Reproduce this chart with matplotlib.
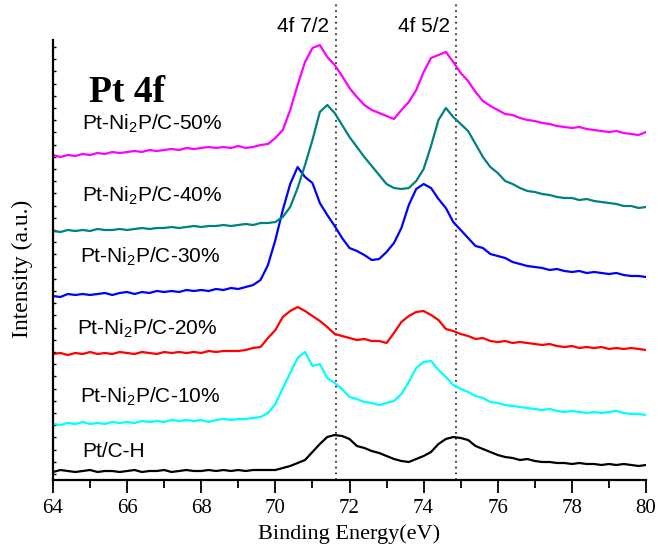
import numpy as np
import matplotlib
matplotlib.use('Agg')
import matplotlib.pyplot as plt
from matplotlib.ticker import MultipleLocator, FixedLocator, NullFormatter

plt.rcParams['font.family'] = 'Liberation Serif'
plt.rcParams['mathtext.default'] = 'regular'

# binding energy grid (eV), 0.2 eV step
energy = np.round(np.arange(64.0, 80.0001, 0.2), 1)

# intensities (arbitrary units, offsets included)
pt_c_h = [8, 10, 9, 8, 9, 10, 8, 9, 9, 8,
          9, 10, 8, 9, 9, 10, 8, 9, 10, 9,
          9, 10, 9, 10, 9, 10, 9, 10, 10, 10,
          10, 12, 14, 17, 20, 28, 36, 43, 45, 44,
          41, 34, 32, 29, 27, 24, 21, 19, 18, 21,
          24, 28, 36, 41, 43, 42, 40, 34, 31, 28,
          25, 23, 22, 20, 21, 19, 18, 18, 17, 17,
          16, 17, 16, 16, 15, 16, 15, 16, 15, 14,
          15]
pct10 = [56, 55, 57, 56, 58, 56, 57, 56, 58, 57,
         58, 57, 59, 58, 59, 58, 60, 59, 60, 59,
         60, 58, 60, 61, 60, 61, 61, 62, 63, 67,
         76, 92, 107, 122, 128, 114, 116, 102, 97, 91,
         83, 81, 78, 77, 75, 77, 79, 86, 98, 112,
         118, 119, 110, 103, 95, 91, 88, 84, 82, 78,
         77, 75, 74, 73, 72, 71, 70, 71, 69, 68,
         69, 68, 67, 68, 67, 68, 69, 67, 66, 66,
         65]
pct20 = [126, 127, 125, 127, 126, 128, 126, 127, 126, 128,
         127, 126, 128, 127, 126, 128, 127, 128, 127, 128,
         127, 129, 128, 129, 129, 129, 130, 132, 133, 142,
         150, 163, 169, 173, 169, 164, 159, 153, 146, 144,
         142, 140, 141, 139, 139, 137, 147, 158, 164, 168,
         169, 165, 160, 151, 149, 146, 144, 141, 142, 139,
         138, 139, 137, 138, 137, 136, 135, 136, 134, 133,
         134, 132, 133, 132, 133, 131, 132, 131, 132, 131,
         130]
pct30 = [184, 183, 186, 185, 186, 185, 186, 187, 185, 187,
         188, 186, 188, 187, 189, 188, 189, 188, 190, 189,
         190, 189, 191, 190, 192, 191, 193, 195, 200, 215,
         240, 270, 296, 313, 303, 297, 277, 265, 254, 242,
         232, 229, 225, 220, 221, 228, 237, 252, 275, 291,
         296, 292, 281, 272, 258, 250, 242, 234, 232, 226,
         224, 222, 218, 216, 214, 213, 212, 210, 211, 209,
         208, 209, 207, 208, 207, 206, 207, 205, 204, 204,
         203]
pct40 = [249, 248, 250, 249, 250, 249, 251, 250, 250, 251,
         250, 251, 252, 251, 252, 252, 253, 252, 253, 254,
         253, 254, 254, 255, 254, 255, 256, 255, 257, 257,
         258, 263, 273, 292, 315, 340, 368, 375, 367, 355,
         343, 333, 323, 314, 305, 296, 292, 291, 292, 299,
         311, 334, 360, 372, 363, 356, 349, 336, 323, 313,
         307, 299, 296, 292, 289, 288, 286, 285, 283, 282,
         282, 280, 281, 279, 278, 277, 276, 274, 274, 272,
         273]
pct50 = [325, 323, 325, 324, 326, 325, 327, 326, 328, 327,
         328, 329, 328, 330, 329, 330, 331, 330, 332, 331,
         332, 333, 332, 333, 332, 334, 332, 333, 335, 336,
         342, 350, 370, 395, 418, 432, 435, 423, 415, 404,
         392, 383, 375, 370, 367, 364, 361, 370, 378, 390,
         408, 422, 425, 428, 418, 407, 399, 388, 379, 374,
         370, 366, 365, 362, 360, 359, 357, 356, 354, 353,
         352, 353, 351, 350, 349, 348, 349, 347, 346, 345,
         348]

series = [pt_c_h, pct10, pct20, pct30, pct40, pct50]
colors = ['black', '#00FFFF', '#FF0000', '#0000FF', '#008080', '#FF00FF']
labels = ['Pt/C-H', 'Pt-Ni$_2$P/C-10%', 'Pt-Ni$_2$P/C-20%',
          'Pt-Ni$_2$P/C-30%', 'Pt-Ni$_2$P/C-40%', 'Pt-Ni$_2$P/C-50%']
label_x = [64.78, 64.73, 64.65, 64.73, 64.78, 64.78]
label_y = [23, 77, 145, 217, 278, 350]

peaks = [71.64, 74.87]
peak_names = ['4f 7/2', '4f 5/2']
peak_text_x = [70.04, 73.31]

fig = plt.figure(figsize=(6.58, 5.53), dpi=100)
ax = fig.add_axes([53/658, 73/553, 593/658, 440/553])

ax.vlines(peaks, 0, 478, colors='#333333', linestyles=(0, (1, 2.2)), lw=1.3, clip_on=False)
for name, tx in zip(peak_names, peak_text_x):
    ax.text(tx, 448, name, fontsize=15, family='Liberation Sans', va='baseline')

for vals, c in zip(series, colors):
    ax.plot(energy, vals, color=c, lw=1.6)

for lab, lx, ly in zip(labels, label_x, label_y):
    ax.text(lx, ly, lab, fontsize=15, family='Liberation Sans', va='baseline')

ax.text(64.97, 378, 'Pt 4f', fontsize=27, fontweight='bold', va='baseline')

ax.set_xlim(64, 80)
ax.set_ylim(0, 440)
ax.xaxis.set_major_locator(MultipleLocator(2))
ax.xaxis.set_minor_locator(MultipleLocator(1))
ax.yaxis.set_major_locator(FixedLocator(np.arange(6, 440, 12.2)))
ax.yaxis.set_major_formatter(NullFormatter())
ax.tick_params(axis='x', which='major', direction='out', length=9, width=1.3, labelsize=15, pad=5)
ax.tick_params(axis='x', which='minor', direction='out', length=5.5, width=1.3)
ax.tick_params(axis='y', which='major', direction='in', length=2.5, width=1.0)

for s in ['top', 'right']:
    ax.spines[s].set_visible(False)
for s in ['left', 'bottom']:
    ax.spines[s].set_linewidth(1.6)

ax.set_xlabel('Binding Energy(eV)', fontsize=16, labelpad=4)
ax.set_ylabel('Intensity (a.u.)', fontsize=17)
ax.yaxis.set_label_coords(-0.034, 0.48)

fig.savefig('out.png', dpi=100)
